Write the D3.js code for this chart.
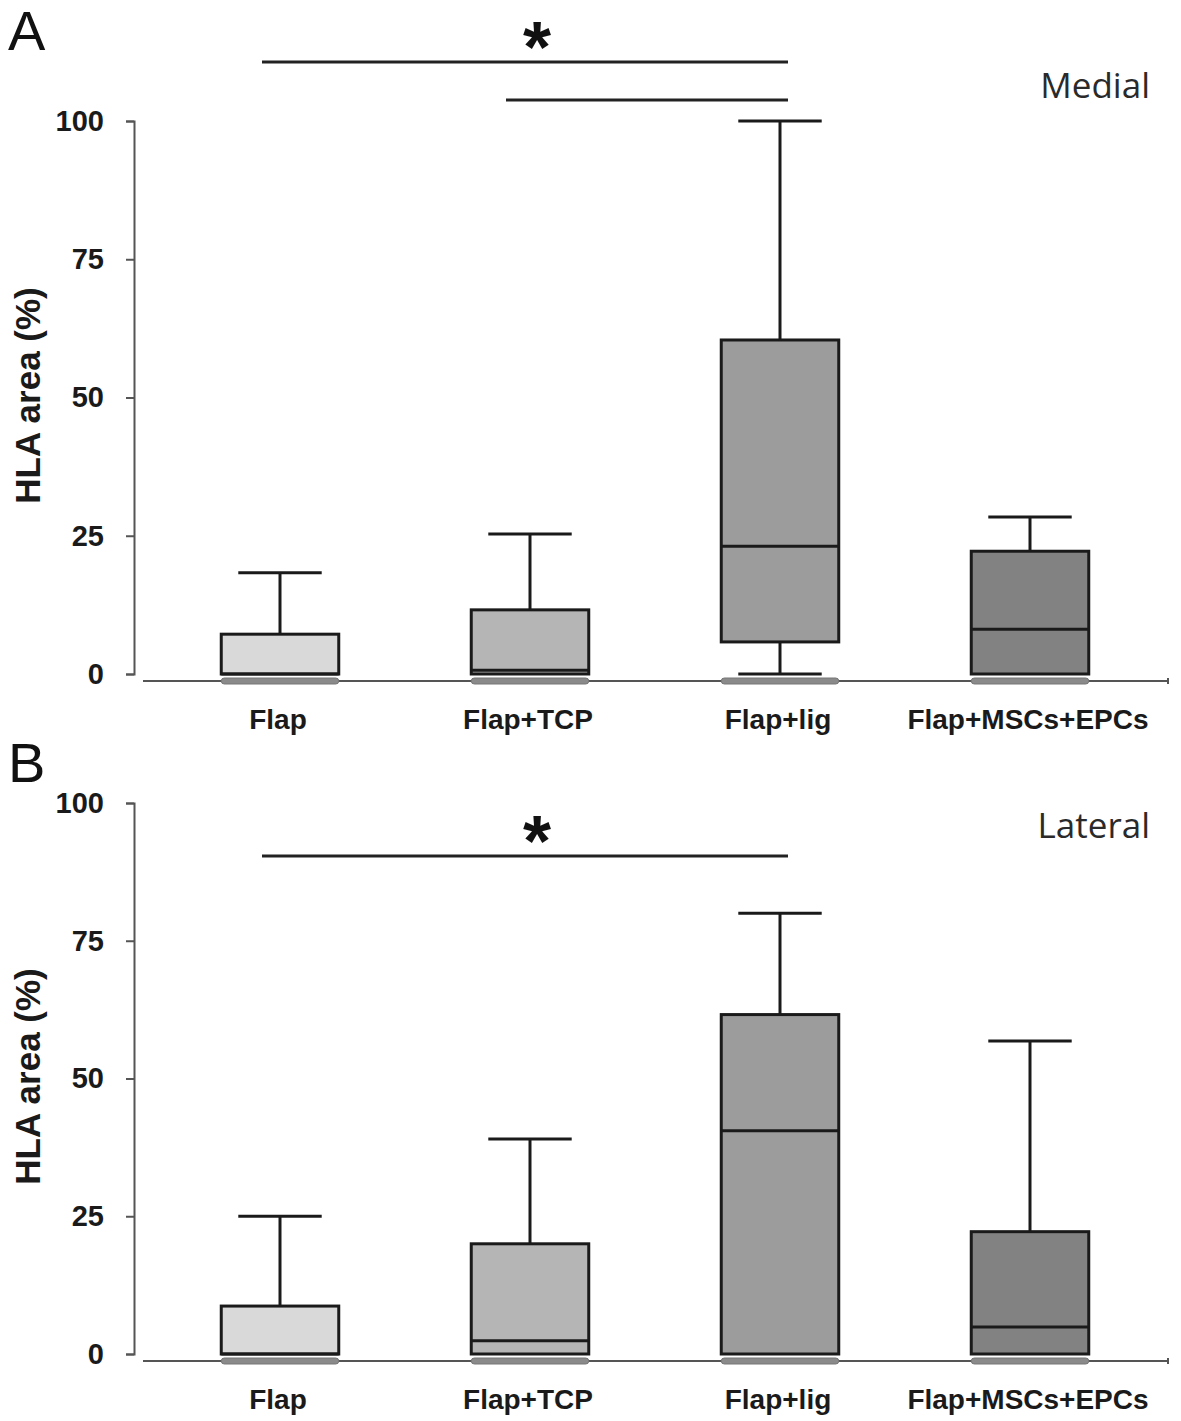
<!DOCTYPE html>
<html lang="en">
<head>
<meta charset="UTF-8">
<title>HLA area box plots</title>
<script src="https://d3js.org/d3.v7.min.js"></script>
<style>
body { margin: 0; background: #fff; }
.axis path, .axis line { fill: none; stroke: #555; stroke-width: 2; }
.axis text { font-family: "Liberation Sans", Arial, sans-serif; font-size: 29px; font-weight: bold; fill: #1a1a1a; }
</style>
</head>
<body>
<script>
// categories and fills
var groups = ['Flap', 'Flap+TCP', 'Flap+lig', 'Flap+MSCs+EPCs'];
var fills = ['#d9d9d9', '#b5b5b5', '#9c9c9c', '#828282'];
var yTicks = [0, 25, 50, 75, 100];

// medial (A): [min, q1, median, q3, max]
var medialMin = [0, 0, 0, 0];
var medialQ1 = [0, 0, 5.8, 0];
var medialMed = [0, 0.7, 23.1, 8.1];
var medialQ3 = [7.2, 11.6, 60.4, 22.2];
var medialMax = [18.3, 25.3, 100, 28.4];

// lateral (B)
var lateralMin = [0, 0, 0, 0];
var lateralQ1 = [0, 0, 0, 0];
var lateralMed = [0, 2.4, 40.5, 4.9];
var lateralQ3 = [8.7, 20.0, 61.6, 22.2];
var lateralMax = [25, 39, 80, 56.8];

var W = 1181, H = 1421;
var svg = d3.select('body').append('svg').attr('width', W).attr('height', H);

var x = d3.scaleBand().domain(groups).range([155, 1155]).paddingInner(0.53).paddingOuter(0.265);
var axisX = 134;

function drawPanel(opt) {
  var g = svg.append('g');
  var y = d3.scaleLinear().domain([0, 100]).range([opt.y0, opt.y100]);

  // y axis
  g.append('g').attr('class', 'axis')
    .attr('transform', 'translate(' + axisX + ',0)')
    .call(d3.axisLeft(y).tickValues(yTicks).tickSize(8).tickPadding(22).tickSizeOuter(8));

  // x axis line (slightly below zero)
  var xl = opt.y0 + 7;
  g.append('line').attr('x1', 143).attr('x2', 1168).attr('y1', xl).attr('y2', xl)
    .attr('stroke', '#555').attr('stroke-width', 2);
  g.append('line').attr('x1', 1168).attr('x2', 1168).attr('y1', xl - 3).attr('y2', xl + 3)
    .attr('stroke', '#555').attr('stroke-width', 2);

  // gray strip under each box
  g.selectAll('rect.strip').data(groups).enter().append('rect')
    .attr('class', 'strip')
    .attr('x', function(d) { return x(d); })
    .attr('y', xl - 3)
    .attr('width', x.bandwidth())
    .attr('height', 6)
    .attr('rx', 3)
    .attr('fill', '#8a8a8a')
    .attr('stroke', '#777').attr('stroke-width', 1);

  var data = groups.map(function(d, i) {
    return { name: d, min: opt.min[i], q1: opt.q1[i], med: opt.med[i], q3: opt.q3[i], max: opt.max[i], fill: fills[i] };
  });
  var capW = x.bandwidth() * 0.71;
  var sw = 3, col = '#1a1a1a';

  var bx = g.selectAll('g.box').data(data).enter().append('g').attr('class', 'box');
  // upper whisker
  bx.append('line')
    .attr('x1', function(d) { return x(d.name) + x.bandwidth() / 2; })
    .attr('x2', function(d) { return x(d.name) + x.bandwidth() / 2; })
    .attr('y1', function(d) { return y(d.q3); })
    .attr('y2', function(d) { return y(d.max); })
    .attr('stroke', col).attr('stroke-width', sw);
  bx.append('line')
    .attr('x1', function(d) { return x(d.name) + x.bandwidth() / 2 - capW / 2; })
    .attr('x2', function(d) { return x(d.name) + x.bandwidth() / 2 + capW / 2; })
    .attr('y1', function(d) { return y(d.max); })
    .attr('y2', function(d) { return y(d.max); })
    .attr('stroke', col).attr('stroke-width', sw);
  // lower whisker where q1 > min
  bx.filter(function(d) { return d.q1 > d.min; }).each(function(d) {
    var s = d3.select(this), cx = x(d.name) + x.bandwidth() / 2;
    s.append('line').attr('x1', cx).attr('x2', cx).attr('y1', y(d.q1)).attr('y2', y(d.min))
      .attr('stroke', col).attr('stroke-width', sw);
    s.append('line').attr('x1', cx - capW / 2).attr('x2', cx + capW / 2).attr('y1', y(d.min)).attr('y2', y(d.min))
      .attr('stroke', col).attr('stroke-width', sw);
  });
  // box
  bx.append('rect')
    .attr('x', function(d) { return x(d.name); })
    .attr('y', function(d) { return y(d.q3); })
    .attr('width', x.bandwidth())
    .attr('height', function(d) { return y(d.q1) - y(d.q3); })
    .attr('fill', function(d) { return d.fill; })
    .attr('stroke', col).attr('stroke-width', sw);
  // median
  bx.append('line')
    .attr('x1', function(d) { return x(d.name); })
    .attr('x2', function(d) { return x(d.name) + x.bandwidth(); })
    .attr('y1', function(d) { return y(d.med); })
    .attr('y2', function(d) { return y(d.med); })
    .attr('stroke', col).attr('stroke-width', sw);

  // category labels
  g.selectAll('text.cat').data(groups).enter().append('text')
    .attr('class', 'cat')
    .attr('x', function(d) { return x(d) + x.bandwidth() / 2 - 2; })
    .attr('y', opt.y0 + 55)
    .attr('text-anchor', 'middle')
    .style('font-family', '"Liberation Sans", Arial, sans-serif')
    .style('font-size', '28px').style('font-weight', 'bold').attr('fill', '#1a1a1a')
    .text(function(d) { return d; });

  // y label
  g.append('text')
    .attr('transform', 'translate(40,' + ((opt.y0 + opt.y100) / 2 - 2) + ') rotate(-90)')
    .attr('text-anchor', 'middle')
    .style('font-family', '"Liberation Sans", Arial, sans-serif')
    .style('font-size', '35px').style('font-weight', 'bold').attr('fill', '#1a1a1a')
    .text('HLA area (%)');

  // panel letter
  g.append('text').attr('x', 8).attr('y', opt.letterY)
    .style('font-family', '"Liberation Sans", Arial, sans-serif')
    .style('font-size', '56px').attr('fill', '#111')
    .text(opt.letter);

  // side label
  g.append('text').attr('x', 1150).attr('y', opt.sideY)
    .attr('text-anchor', 'end')
    .style('font-family', '"Open Sans", "Noto Sans", sans-serif')
    .style('font-size', '35px').attr('fill', '#2a2a2a')
    .text(opt.side);

  // significance bars
  opt.sig.forEach(function(s) {
    g.append('line').attr('x1', s[0]).attr('x2', s[1]).attr('y1', s[2]).attr('y2', s[2])
      .attr('stroke', '#222').attr('stroke-width', 3);
  });
  g.append('text').attr('x', 537).attr('y', opt.starY)
    .attr('text-anchor', 'middle')
    .style('font-family', '"Liberation Sans", Arial, sans-serif')
    .style('font-size', '72px').style('font-weight', 'bold').attr('fill', '#111')
    .text('*');
}

drawPanel({ y0: 674, y100: 121, min: medialMin, q1: medialQ1, med: medialMed, q3: medialQ3, max: medialMax,
  letter: 'A', letterY: 50, side: 'Medial', sideY: 98, starY: 72,
  sig: [[262, 788, 62], [506, 788, 100]] });
drawPanel({ y0: 1354, y100: 803, min: lateralMin, q1: lateralQ1, med: lateralMed, q3: lateralQ3, max: lateralMax,
  letter: 'B', letterY: 782, side: 'Lateral', sideY: 838, starY: 866,
  sig: [[262, 788, 856]] });
</script>
</body>
</html>
